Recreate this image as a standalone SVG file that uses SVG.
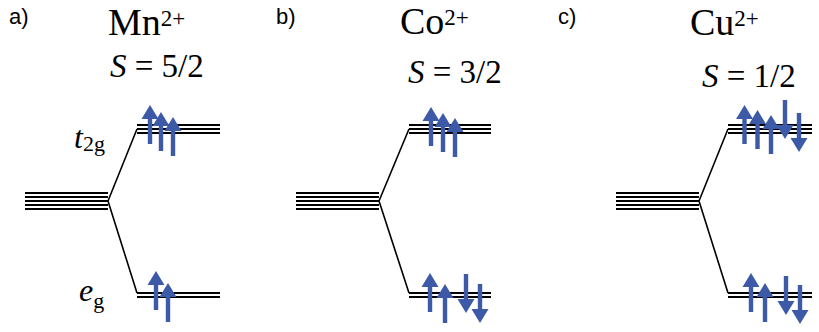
<svg xmlns="http://www.w3.org/2000/svg" xmlns:xlink="http://www.w3.org/1999/xlink" width="819" height="332" viewBox="0 0 819 332">
<style>
.lv{stroke:#000;stroke-width:2;fill:none}
.cn{stroke:#000;stroke-width:1.6;fill:none}
.lab{font-family:"Liberation Sans",Arial,sans-serif;font-size:22px;fill:#000}
.ser{font-family:"Liberation Serif","Times New Roman",serif;fill:#000}
.ar{fill:#3d5aa9}
</style>
<defs>
<path id="up" class="ar" d="M0,0 L8.5,14 L2.2,14 L2.2,39 L-2.2,39 L-2.2,14 L-8.5,14 Z"/>
<path id="dn" class="ar" d="M0,0 L8.5,-14 L2.2,-14 L2.2,-39 L-2.2,-39 L-2.2,-14 L-8.5,-14 Z"/>
</defs>
<rect width="819" height="332" fill="#fff"/>

<g id="labels">
<text class="lab" x="9" y="24">a)</text>
<text class="lab" x="276" y="24">b)</text>
<text class="lab" x="558" y="24">c)</text>
</g>

<g id="panel-a-title">
<text class="ser" x="108" y="35"><tspan font-size="38">Mn</tspan><tspan font-size="23" dy="-9">2+</tspan></text>
<text class="ser" font-size="33" x="110" y="77"><tspan font-style="italic">S</tspan> = 5/2</text>
</g>
<g id="panel-b-title">
<text class="ser" x="400" y="34"><tspan font-size="38">Co</tspan><tspan font-size="23" dy="-9">2+</tspan></text>
<text class="ser" font-size="33" x="408" y="83"><tspan font-style="italic">S</tspan> = 3/2</text>
</g>
<g id="panel-c-title">
<text class="ser" x="690" y="35"><tspan font-size="38">Cu</tspan><tspan font-size="23" dy="-9">2+</tspan></text>
<text class="ser" font-size="33" x="702" y="87"><tspan font-style="italic">S</tspan> = 1/2</text>
</g>

<g id="orbital-labels">
<text class="ser" x="74" y="148"><tspan font-size="32" font-style="italic">t</tspan><tspan font-size="22" dy="3">2g</tspan></text>
<text class="ser" x="79" y="301"><tspan font-size="32" font-style="italic">e</tspan><tspan font-size="22" dy="7">g</tspan></text>
</g>

<g id="connectors">
<path class="cn" d="M108,201 L137,129 M108,201 L137,293"/>
<path class="cn" d="M379,201 L409,129 M379,201 L409,293"/>
<path class="cn" d="M699,201 L728,129 M699,201 L728,293"/>
</g>

<g id="a-d">
<path class="lv" d="M25,193H108M25,197H108M25,201H108M25,205H108M25,209H108"/>
</g>
<g id="a-t2g">
<path class="lv" d="M137,125H220M137,129H220M137,133H220"/>
<use href="#up" x="150" y="105"/><use href="#up" x="161" y="112"/><use href="#up" x="173" y="117"/>
</g>
<g id="a-eg">
<path class="lv" d="M137,293H220M137,297H220"/>
<use href="#up" x="156" y="271"/><use href="#up" x="168" y="283"/>
</g>

<g id="b-d">
<path class="lv" d="M296,193H379M296,197H379M296,201H379M296,205H379M296,209H379"/>
</g>
<g id="b-t2g">
<path class="lv" d="M409,125H491M409,129H491M409,133H491"/>
<use href="#up" x="431" y="107"/><use href="#up" x="443" y="113"/><use href="#up" x="455" y="118"/>
</g>
<g id="b-eg">
<path class="lv" d="M409,293H491M409,297H491"/>
<use href="#up" x="430" y="273"/><use href="#up" x="445" y="284"/>
<use href="#dn" x="466" y="313"/><use href="#dn" x="480" y="323"/>
</g>

<g id="c-d">
<path class="lv" d="M616,193H699M616,197H699M616,201H699M616,205H699M616,209H699"/>
</g>
<g id="c-t2g">
<path class="lv" d="M728,125H812M728,129H812M728,133H812"/>
<use href="#up" x="744.5" y="105"/><use href="#up" x="757.5" y="110"/><use href="#up" x="771" y="115"/>
<use href="#dn" x="785" y="139"/><use href="#dn" x="799" y="152"/>
</g>
<g id="c-eg">
<path class="lv" d="M728,293H812M728,297H812"/>
<use href="#up" x="751" y="273"/><use href="#up" x="765" y="283"/>
<use href="#dn" x="786" y="315"/><use href="#dn" x="800" y="324"/>
</g>
</svg>
